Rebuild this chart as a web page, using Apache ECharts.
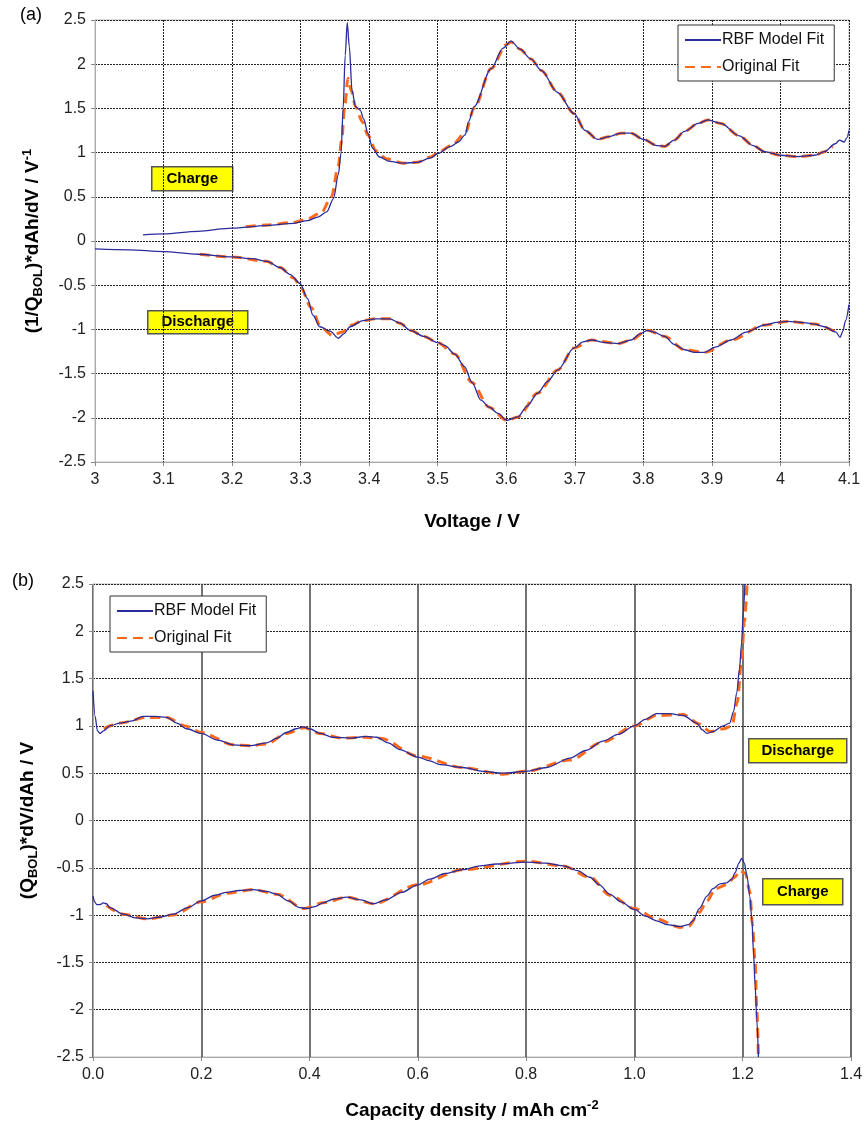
<!DOCTYPE html>
<html>
<head>
<meta charset="utf-8">
<title>dQ/dV and dV/dQ fits</title>
<script src="https://cdn.jsdelivr.net/npm/echarts@6/dist/echarts.min.js"></script>
<style>
  html, body { margin: 0; padding: 0; background: #fff; }
  #chart { width: 867px; height: 1136px; }
</style>
</head>
<body>
<div id="chart"></div>
<script>
// (a) voltage axis, [V, value]
const voltTicks = [3, 3.1, 3.2, 3.3, 3.4, 3.5, 3.6, 3.7, 3.8, 3.9, 4, 4.1];
const chargeRbfA = [
  [3.07,0.07],[3.1,0.08],[3.15,0.11],[3.2,0.145],[3.25,0.175],[3.29,0.2],[3.31,0.23],[3.325,0.27],
  [3.338,0.33],[3.348,0.48],[3.355,0.75],[3.359,1.0],[3.362,1.5],[3.365,2.1],[3.368,2.47],[3.371,2.2],
  [3.375,1.7],[3.38,1.52],[3.387,1.48],[3.392,1.38],[3.398,1.22],[3.405,1.05],[3.415,0.95],[3.43,0.9],
  [3.45,0.88],[3.47,0.89],[3.49,0.94],[3.5,0.99],[3.519,1.07],[3.53,1.12],[3.54,1.2],[3.545,1.35],
  [3.553,1.52],[3.578,1.95],[3.595,2.18],[3.607,2.26],[3.62,2.17],[3.636,2.06],[3.651,1.93],[3.675,1.68],
  [3.699,1.44],[3.715,1.25],[3.733,1.15],[3.75,1.18],[3.767,1.22],[3.782,1.22],[3.8,1.15],[3.82,1.08],
  [3.831,1.07],[3.845,1.14],[3.86,1.24],[3.88,1.33],[3.894,1.37],[3.913,1.33],[3.94,1.19],[3.96,1.08],
  [3.977,1.01],[4.0,0.97],[4.025,0.955],[4.05,0.97],[4.064,1.01],[4.08,1.1],[4.086,1.14],[4.093,1.12],
  [4.097,1.17],[4.1,1.25]
];
const chargeOrigA = [
  [3.22,0.16],[3.25,0.18],[3.29,0.21],[3.31,0.25],[3.33,0.32],[3.345,0.5],[3.355,0.85],[3.36,1.15],
  [3.364,1.5],[3.369,1.84],[3.374,1.7],[3.38,1.52],[3.39,1.35],[3.398,1.2],[3.41,1.02],[3.425,0.93],
  [3.45,0.88],[3.47,0.89],[3.49,0.95],[3.5,1.0],[3.52,1.08],[3.54,1.22],[3.553,1.5],[3.578,1.95],
  [3.6,2.22],[3.607,2.25],[3.62,2.17],[3.636,2.06],[3.651,1.93],[3.675,1.68],[3.699,1.44],[3.715,1.25],
  [3.733,1.15],[3.75,1.18],[3.767,1.22],[3.782,1.22],[3.8,1.15],[3.82,1.08],[3.831,1.07],[3.845,1.14],
  [3.86,1.24],[3.88,1.33],[3.894,1.37],[3.913,1.33],[3.94,1.19],[3.96,1.08],[3.977,1.01],[4.0,0.97],
  [4.025,0.955],[4.05,0.97],[4.064,1.01],[4.076,1.07]
];
const dischargeRbfA = [
  [3.0,-0.09],[3.05,-0.1],[3.1,-0.12],[3.15,-0.15],[3.2,-0.18],[3.23,-0.2],[3.251,-0.23],[3.27,-0.3],
  [3.285,-0.38],[3.299,-0.48],[3.31,-0.65],[3.318,-0.84],[3.328,-0.97],[3.343,-1.02],[3.355,-1.1],
  [3.363,-1.05],[3.372,-0.97],[3.391,-0.9],[3.41,-0.88],[3.43,-0.88],[3.445,-0.93],[3.46,-1.01],
  [3.48,-1.08],[3.5,-1.15],[3.51,-1.18],[3.525,-1.28],[3.539,-1.42],[3.55,-1.6],[3.563,-1.8],
  [3.575,-1.88],[3.588,-1.95],[3.601,-2.03],[3.617,-1.99],[3.63,-1.87],[3.646,-1.72],[3.66,-1.59],
  [3.675,-1.46],[3.699,-1.21],[3.712,-1.14],[3.724,-1.12],[3.745,-1.15],[3.763,-1.16],[3.782,-1.12],
  [3.795,-1.05],[3.806,-1.01],[3.815,-1.03],[3.831,-1.08],[3.845,-1.17],[3.86,-1.23],[3.875,-1.26],
  [3.889,-1.26],[3.905,-1.2],[3.928,-1.12],[3.95,-1.03],[3.977,-0.95],[3.995,-0.92],[4.011,-0.91],
  [4.03,-0.92],[4.05,-0.94],[4.064,-0.97],[4.081,-1.03],[4.087,-1.09],[4.091,-1.02],[4.095,-0.9],
  [4.1,-0.72]
];
const dischargeOrigA = [
  [3.153,-0.15],[3.2,-0.18],[3.25,-0.23],[3.27,-0.3],[3.29,-0.42],[3.3,-0.52],[3.315,-0.75],
  [3.33,-0.98],[3.347,-1.07],[3.36,-1.03],[3.375,-0.95],[3.39,-0.9],[3.41,-0.88],[3.43,-0.88],
  [3.445,-0.93],[3.46,-1.01],[3.48,-1.08],[3.5,-1.15],[3.525,-1.28],[3.55,-1.6],[3.575,-1.88],
  [3.601,-2.03],[3.617,-1.99],[3.646,-1.72],[3.675,-1.46],[3.699,-1.21],[3.724,-1.12],[3.763,-1.16],
  [3.782,-1.12],[3.806,-1.01],[3.831,-1.08],[3.86,-1.23],[3.889,-1.26],[3.928,-1.12],[3.977,-0.95],
  [4.011,-0.91],[4.05,-0.94],[4.081,-1.03]
];

// (b) capacity axis, [mAh cm-2, value]
const capTicks = [0, 0.2, 0.4, 0.6, 0.8, 1.0, 1.2, 1.4];
const dischargeRbfB = [
  [0,1.37],[0.004,1.1],[0.008,0.95],[0.013,0.92],[0.02,0.95],[0.031,1.0],[0.05,1.03],[0.07,1.05],
  [0.093,1.1],[0.115,1.1],[0.136,1.09],[0.155,1.03],[0.173,0.97],[0.2,0.92],[0.23,0.85],[0.259,0.8],
  [0.29,0.79],[0.321,0.82],[0.34,0.87],[0.357,0.93],[0.375,0.97],[0.388,0.99],[0.4,0.97],[0.42,0.92],
  [0.443,0.88],[0.475,0.87],[0.505,0.89],[0.524,0.88],[0.545,0.82],[0.567,0.75],[0.6,0.67],[0.622,0.63],
  [0.641,0.59],[0.683,0.56],[0.72,0.52],[0.757,0.5],[0.8,0.52],[0.838,0.56],[0.881,0.66],[0.91,0.74],
  [0.942,0.84],[0.97,0.91],[1.0,1.0],[1.02,1.07],[1.041,1.13],[1.065,1.13],[1.09,1.11],[1.115,1.03],
  [1.125,0.96],[1.134,0.92],[1.145,0.94],[1.164,1.0],[1.176,1.03],[1.183,1.15],[1.189,1.35],
  [1.194,1.6],[1.198,1.88],[1.201,2.2],[1.204,2.5]
];
const dischargeOrigB = [
  [0.02,0.97],[0.05,1.03],[0.1,1.09],[0.136,1.09],[0.17,1.0],[0.2,0.93],[0.259,0.8],[0.29,0.79],
  [0.321,0.81],[0.357,0.92],[0.39,0.98],[0.42,0.92],[0.46,0.87],[0.5,0.88],[0.53,0.87],[0.6,0.68],
  [0.683,0.56],[0.757,0.49],[0.8,0.52],[0.881,0.64],[0.942,0.83],[1.0,1.0],[1.041,1.11],[1.09,1.12],
  [1.12,1.02],[1.14,0.94],[1.165,0.97],[1.18,1.0],[1.19,1.25],[1.198,1.7],[1.203,2.1],[1.208,2.5]
];
const chargeRbfB = [
  [0,-0.8],[0.003,-0.86],[0.007,-0.89],[0.013,-0.89],[0.019,-0.87],[0.025,-0.88],[0.031,-0.92],
  [0.056,-0.99],[0.08,-1.03],[0.1,-1.04],[0.125,-1.02],[0.148,-0.99],[0.175,-0.92],[0.2,-0.85],
  [0.225,-0.79],[0.247,-0.76],[0.27,-0.74],[0.296,-0.73],[0.32,-0.75],[0.34,-0.78],[0.36,-0.85],
  [0.382,-0.92],[0.395,-0.93],[0.41,-0.91],[0.425,-0.87],[0.445,-0.83],[0.469,-0.81],[0.495,-0.84],
  [0.518,-0.88],[0.54,-0.84],[0.57,-0.76],[0.6,-0.68],[0.622,-0.62],[0.65,-0.56],[0.683,-0.52],
  [0.715,-0.48],[0.745,-0.46],[0.8,-0.44],[0.835,-0.45],[0.868,-0.48],[0.895,-0.53],[0.918,-0.6],
  [0.935,-0.68],[0.955,-0.78],[0.975,-0.86],[1.0,-0.94],[1.02,-1.01],[1.041,-1.06],[1.06,-1.1],
  [1.084,-1.12],[1.1,-1.1],[1.108,-1.06],[1.12,-0.93],[1.134,-0.8],[1.145,-0.72],[1.158,-0.67],
  [1.17,-0.66],[1.18,-0.62],[1.186,-0.55],[1.193,-0.45],[1.198,-0.4],[1.203,-0.45],[1.208,-0.59],
  [1.213,-0.8],[1.217,-1.05],[1.22,-1.4],[1.223,-1.75],[1.226,-2.1],[1.229,-2.5]
];
const chargeOrigB = [
  [0.025,-0.9],[0.056,-0.99],[0.1,-1.04],[0.148,-1.0],[0.2,-0.86],[0.247,-0.77],[0.296,-0.73],
  [0.34,-0.78],[0.39,-0.93],[0.425,-0.87],[0.469,-0.81],[0.518,-0.88],[0.6,-0.68],[0.683,-0.52],
  [0.8,-0.43],[0.868,-0.48],[0.918,-0.6],[0.955,-0.79],[1.0,-0.93],[1.041,-1.04],[1.084,-1.13],
  [1.1,-1.12],[1.12,-0.97],[1.134,-0.85],[1.15,-0.72],[1.17,-0.68],[1.185,-0.6],[1.195,-0.53],
  [1.205,-0.56],[1.213,-0.75],[1.218,-1.1],[1.223,-1.5],[1.226,-2.0],[1.229,-2.5]
];
const yTicks = [-2.5, -2, -1.5, -1, -0.5, 0, 0.5, 1, 1.5, 2, 2.5];

const FONT = '"Liberation Sans", Arial, sans-serif';
const RBF = 'RBF Model Fit';
const ORIG = 'Original Fit';

const chart = echarts.init(document.getElementById('chart'));

function yAxisFor(gridIndex, name, gap) {
  return {
    type: 'value', gridIndex: gridIndex,
    min: yTicks[0], max: yTicks[yTicks.length - 1], interval: 0.5,
    name: name, nameLocation: 'middle', nameGap: gap,
    nameTextStyle: {
      fontFamily: FONT, fontSize: 19, fontWeight: 'bold', color: '#000', lineHeight: 24,
      rich: {
        sub: { fontFamily: FONT, fontSize: 13, fontWeight: 'bold', color: '#000', verticalAlign: 'bottom', lineHeight: 24 },
        sup: { fontFamily: FONT, fontSize: 13, fontWeight: 'bold', color: '#000', verticalAlign: 'top', lineHeight: 24 }
      }
    },
    axisLine: { show: true, lineStyle: { color: '#aaa' } },
    axisTick: { show: true, length: 4, lineStyle: { color: '#888' } },
    axisLabel: { fontFamily: FONT, fontSize: 16, color: '#222', margin: 9 },
    splitLine: { show: true, lineStyle: { color: '#222', type: [2, 1], width: 1 } }
  };
}

function line(name, data, xi, orig) {
  return {
    name: name, type: 'line', xAxisIndex: xi, yAxisIndex: xi, data: data,
    showSymbol: false, symbol: 'none', smooth: 0.3, smoothMonotone: 'x',
    z: orig ? 2 : 3,
    lineStyle: orig
      ? { color: '#ff6a1a', width: 3, type: [10, 6] }
      : { color: '#2a2c9c', width: 1.3 },
    itemStyle: { color: orig ? '#ff6a1a' : '#2a2c9c' }
  };
}

function note(text, x, y, w, h) {
  return {
    type: 'group', left: x, top: y,
    children: [
      { type: 'rect', shape: { x: 0, y: 0, width: w, height: h },
        style: { fill: '#ffff00', stroke: '#555', lineWidth: 1.5 } },
      { type: 'text', x: w / 2, y: h / 2,
        style: { text: text, fill: '#000', font: 'bold 15px ' + FONT, align: 'center', verticalAlign: 'middle' } }
    ]
  };
}

const legendBase = {
  orient: 'vertical', data: [RBF, ORIG],
  backgroundColor: '#fff', borderColor: '#333', borderWidth: 1,
  padding: [7, 10, 6, 6], itemGap: 11, itemWidth: 36, itemHeight: 16,
  itemStyle: { color: 'rgba(0,0,0,0)', borderColor: 'rgba(0,0,0,0)', borderWidth: 0, opacity: 0 },
  textStyle: { fontFamily: FONT, fontSize: 16, color: '#111', padding: [0, 0, 0, -4] },
  selectedMode: false
};

chart.setOption({
  animation: false,
  backgroundColor: '#fff',
  grid: [
    { left: 95, top: 20, width: 754, height: 442, show: true, borderColor: '#bbb', borderWidth: 1 },
    { left: 93, top: 584, width: 758, height: 473, show: true, borderColor: '#bbb', borderWidth: 1 }
  ],
  xAxis: [
    {
      type: 'value', gridIndex: 0, min: voltTicks[0], max: voltTicks[voltTicks.length - 1], interval: 0.1,
      name: 'Voltage / V', nameLocation: 'middle', nameGap: 50,
      nameTextStyle: { fontFamily: FONT, fontSize: 19, fontWeight: 'bold', color: '#000' },
      axisLine: { show: true, onZero: false, lineStyle: { color: '#aaa' } },
      axisTick: { show: true, length: 4, lineStyle: { color: '#888' } },
      axisLabel: { fontFamily: FONT, fontSize: 16, color: '#222', margin: 10 },
      splitLine: { show: true, lineStyle: { color: '#222', type: [2, 1], width: 1 } }
    },
    {
      type: 'value', gridIndex: 1, min: capTicks[0], max: capTicks[capTicks.length - 1], interval: 0.2,
      name: 'Capacity density / mAh cm{sup|-2}', nameLocation: 'middle', nameGap: 42,
      nameTextStyle: {
        fontFamily: FONT, fontSize: 19, fontWeight: 'bold', color: '#000', lineHeight: 24,
        rich: { sup: { fontFamily: FONT, fontSize: 13, fontWeight: 'bold', color: '#000', verticalAlign: 'top', lineHeight: 24 } }
      },
      axisLine: { show: true, onZero: false, lineStyle: { color: '#aaa' } },
      axisTick: { show: true, length: 4, lineStyle: { color: '#888' } },
      axisLabel: { fontFamily: FONT, fontSize: 16, color: '#222', margin: 10, formatter: v => v.toFixed(1) },
      splitLine: { show: true, lineStyle: { color: '#444', type: 'solid', width: 1.5 } }
    }
  ],
  yAxis: [
    yAxisFor(0, '(1/Q{sub|BOL})*dAh/dV / V{sup|-1}', 50),
    yAxisFor(1, '(Q{sub|BOL})*dV/dAh / V', 53)
  ],
  legend: [
    Object.assign({}, legendBase, { left: 678, top: 25 }),
    Object.assign({}, legendBase, { left: 110, top: 596 })
  ],
  series: [
    line(ORIG, chargeOrigA, 0, true),
    line(ORIG, dischargeOrigA, 0, true),
    line(RBF, chargeRbfA, 0, false),
    line(RBF, dischargeRbfA, 0, false),
    line(ORIG, dischargeOrigB, 1, true),
    line(ORIG, chargeOrigB, 1, true),
    line(RBF, dischargeRbfB, 1, false),
    line(RBF, chargeRbfB, 1, false)
  ],
  graphic: [
    { type: 'text', left: 20, top: 6, style: { text: '(a)', fill: '#000', font: '18px ' + FONT } },
    { type: 'text', left: 12, top: 572, style: { text: '(b)', fill: '#000', font: '18px ' + FONT } },
    note('Charge', 151, 166, 81, 24),
    note('Discharge', 147, 310, 100, 23),
    note('Discharge', 748, 738, 98, 24),
    note('Charge', 762, 878, 80, 26)
  ]
});
</script>
</body>
</html>
